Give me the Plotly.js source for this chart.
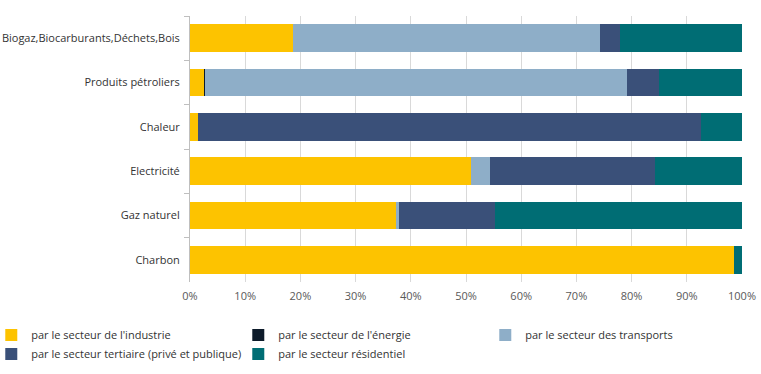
<!DOCTYPE html>
<html><head><meta charset="utf-8">
<script src="https://cdn.plot.ly/plotly-3.0.1.min.js"></script>
<style>html,body{margin:0;padding:0;background:#fff}#chart{width:761px;height:374px}</style>
</head><body><div id="chart"></div>
<script>
const categories = ["Biogaz,Biocarburants,Déchets,Bois","Produits pétroliers","Chaleur","Electricité","Gaz naturel","Charbon"];
const seriesNames = ["par le secteur de l'industrie","par le secteur de l'énergie","par le secteur des transports","par le secteur tertiaire (privé et publique)","par le secteur résidentiel"];
const industrie   = [18.7, 2.5, 1.5, 50.9, 37.4, 98.6];
const energie     = [0.0, 0.3, 0.0, 0.0, 0.0, 0.0];
const transports  = [55.6, 76.4, 0.0, 3.4, 0.4, 0.0];
const tertiaire   = [3.6, 5.8, 91.1, 29.9, 17.4, 0.0];
const residentiel = [22.1, 15.0, 7.4, 15.8, 44.8, 1.4];
const colors = ["#FDC300","#0D1B2A","#8EAEC8","#3A5079","#006D74"];
const values = [industrie, energie, transports, tertiaire, residentiel];

const traces = values.map((v,i)=>({
  type:'bar', orientation:'h', y:categories, x:v, name:seriesNames[i],
  marker:{color:colors[i], line:{width:0}}, hoverinfo:'x+name'
}));

const layout = {
  width:761, height:374,
  margin:{l:190, r:19, t:16, b:92, autoexpand:false},
  barmode:'stack', bargap:0.38,
  paper_bgcolor:'#fff', plot_bgcolor:'#fff',
  font:{family:'"Open Sans", sans-serif', size:11, color:'#333333'},
  xaxis:{range:[0,100], dtick:10, ticksuffix:'%', showgrid:true, gridcolor:'#d9d9d9', gridwidth:1, automargin:false,
         zeroline:false, showline:false, ticks:'', tickfont:{size:11, color:'#595959'}, ticklabelstandoff:6, fixedrange:true},
  yaxis:{type:'category', autorange:'reversed', showline:true, linecolor:'#bfbfbf', linewidth:1, automargin:false,
         ticks:'outside', tickson:'boundaries', ticklen:5, tickcolor:'#bfbfbf', showgrid:false,
         tickfont:{size:11, color:'#333333'}, ticklabelstandoff:7, fixedrange:true},
  legend:{orientation:'h', x:-0.36, xanchor:'left', y:-0.145, yanchor:'top', entrywidth:202, entrywidthmode:'pixels',
          traceorder:'normal', font:{size:11, color:'#333333'}, itemclick:false, itemdoubleclick:false},
  showlegend:true
};
Plotly.newPlot('chart', traces, layout, {displayModeBar:false, staticPlot:true});
</script></body></html>
